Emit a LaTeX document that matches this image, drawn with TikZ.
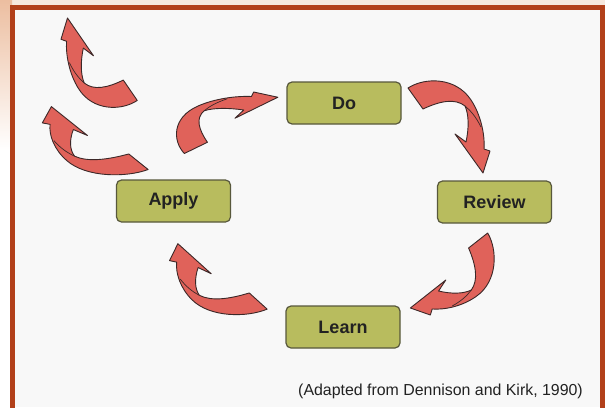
\documentclass[tikz,border=0pt]{standalone}
\usepackage{fontspec}
\setmainfont{Liberation Sans}
\definecolor{rust}{RGB}{178,64,26}
\definecolor{peach}{RGB}{236,190,160}
\definecolor{beige}{RGB}{246,232,222}
\definecolor{paper}{RGB}{248,248,248}
\definecolor{boxfill}{RGB}{184,188,94}
\definecolor{boxedge}{RGB}{88,88,60}
\definecolor{arrowfill}{RGB}{224,98,90}
\definecolor{arrowedge}{RGB}{60,40,40}
\definecolor{ink}{RGB}{34,34,34}
\tikzset{
  box/.style={draw=boxedge, fill=boxfill, line width=1.2pt, rounded corners=5pt,
    minimum width=114pt, minimum height=42pt, inner sep=0pt, text=ink,
    font=\fontsize{18}{20}\selectfont\bfseries},
  bent/.style={fill=arrowfill, draw=arrowedge, line width=0.9pt, line join=round},
  twistline/.style={draw=arrowedge, line width=0.7pt}
}
\newcommand\bentarrow{%
  \path[bent] (-38,39) .. controls (-21,50) and (10,50) .. (25,27)
     .. controls (35,12) and (39,-8) .. (38,-22) -- (44,-24) -- (37,-46)
     -- (9,-7) -- (20,-15) .. controls (23,-1) and (23,12) .. (19,21)
     .. controls (9,29) and (-6,26) .. (-23,18) -- cycle;
  \path[twistline] (19,21) .. controls (25,16) and (30,10) .. (35,0);
}
\begin{document}
\begin{tikzpicture}[x=1pt,y=1pt]
\useasboundingbox (0,0) rectangle (605,-407);
% background
\fill[paper] (0,0) rectangle (605,-407);
\fill[beige] (0,0) rectangle (605,-8);
\shade[top color=peach, bottom color=white] (0,0) rectangle (12,-150);
\fill[white] (0,-150) rectangle (12,-407);
% frame
\draw[rust, line width=5pt] (12.5,-410) -- (12.5,-7.5) -- (602.5,-7.5) -- (602.5,-410);
% boxes
\node[box] (do) at (344,-103) {Do};
\node[box] (review) at (494.5,-202) {Review};
\node[box] (learn) at (343,-327) {Learn};
\node[box] (apply) at (173.5,-201) {Apply};
% bent arrows
\begin{scope}[shift={(446,-127)}] \bentarrow \end{scope}
\begin{scope}[shift={(227.25,-125)}, xscale=1.1, yscale=0.75, rotate=90] \bentarrow \end{scope}
\begin{scope}[shift={(452.2,-271)}, xscale=0.91, rotate=-90] \bentarrow \end{scope}
\begin{scope}[shift={(221.9,-279.1)}, xscale=1.19, yscale=0.77, rotate=180] \bentarrow \end{scope}
\begin{scope}[shift={(101.9,-62.6)}, xscale=0.93, yscale=0.97, rotate=180] \bentarrow \end{scope}
\begin{scope}[shift={(99.1,-140.65)}, xscale=1.29, yscale=0.74, rotate=180] \bentarrow \end{scope}
% caption
\node[anchor=base east, inner sep=0pt, text=ink, font=\fontsize{15.9}{18}\selectfont] (cap) at (583,-395) {(Adapted from Dennison and Kirk, 1990)};
\end{tikzpicture}
\end{document}
